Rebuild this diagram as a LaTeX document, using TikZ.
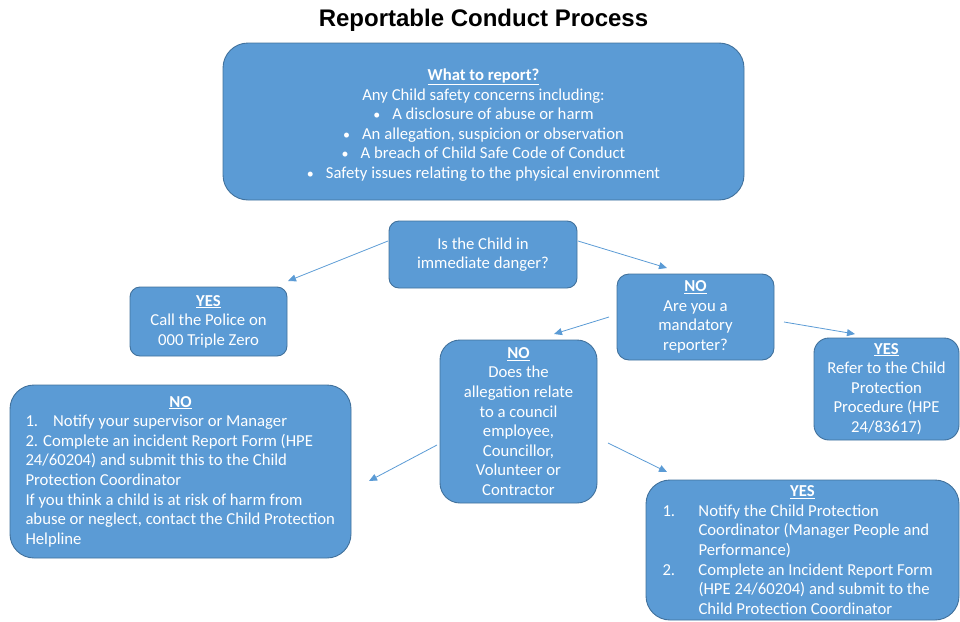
\documentclass[tikz,border=0pt]{standalone}
\usepackage{fontspec}
\setmainfont{Carlito}
\newfontfamily\titlefont{Liberation Sans}
\usetikzlibrary{arrows.meta,positioning}
\definecolor{boxblue}{HTML}{5B9BD5}
\definecolor{boxedge}{HTML}{41719C}
\newcommand{\headword}[1]{\underline{\textbf{#1}}}
\newcommand{\dotitem}{{\fontsize{14}{14}\selectfont\textbullet}\hspace{12pt}}
\tikzset{
  flowbox/.style={draw=boxedge, fill=boxblue, text=white, line width=0.9pt,
    align=center, inner sep=0pt, font=\fontsize{16.7}{19.6}\selectfont},
  flowarrow/.style={draw=boxblue, line width=0.8pt, -{Triangle[length=8pt,width=7pt]}}
}

\begin{document}
\begin{tikzpicture}[x=1pt,y=-1pt]
        \useasboundingbox (0,0) rectangle (960,621);

        % Title
        \node[font=\titlefont\bfseries\fontsize{24}{26}\selectfont] (title) at (483.5,20) {Reportable Conduct Process};

        % Boxes
        \node[flowbox, rounded corners=25pt, minimum width=521pt, minimum height=157pt] (what_box) at (483.5,121.5)
            {\rule{0pt}{19pt}\headword{What to report?}\\
             Any Child safety concerns including:\\
             \dotitem A disclosure of abuse or harm\\
             \dotitem An allegation, suspicion or observation\\
             \dotitem A breach of Child Safe Code of Conduct\\
             \dotitem Safety issues relating to the physical environment};
        \node[flowbox, rounded corners=10pt, minimum width=188pt, minimum height=67pt] (danger_box) at (483,254.5)
            {Is the Child in\\immediate danger?};
        \node[flowbox, rounded corners=10pt, minimum width=157pt, minimum height=69pt] (police_yes) at (208.5,321.5)
            {\headword{YES}\\Call the Police on\\000 Triple Zero};
        \node[flowbox, rounded corners=12pt, minimum width=157pt, minimum height=86pt] (mandatory_no) at (695.5,317)
            {\headword{NO}\\Are you a\\mandatory\\reporter?};
        \node[flowbox, rounded corners=20pt, minimum width=157pt, minimum height=163pt] (allegation_no) at (518.5,421.5)
            {\headword{NO}\\Does the\\allegation relate\\to a council\\employee,\\Councillor,\\Volunteer or\\Contractor};
        \node[flowbox, rounded corners=15pt, minimum width=145pt, minimum height=102pt] (refer_yes) at (886.5,389)
            {\headword{YES}\\Refer to the Child\\Protection\\Procedure (HPE\\24/83617)};
        \node[flowbox, rounded corners=24pt, minimum width=341pt, minimum height=173pt, align=left] (notify_no) at (180.5,471.5)
            {\makebox[310pt]{\headword{NO}}\\
             1.\hspace{15pt}Notify your supervisor or Manager\\
             2. Complete an incident Report Form (HPE\\
             24/60204) and submit this to the Child\\
             Protection Coordinator\\
             If you think a child is at risk of harm from\\
             abuse or neglect, contact the Child Protection\\
             Helpline};
        \node[flowbox, rounded corners=24pt, minimum width=313pt, minimum height=140pt, align=left] (notify_yes) at (802.5,550)
            {\makebox[280pt]{\headword{YES}}\\
             \makebox[36pt][l]{1.}Notify the Child Protection\\
             \hspace*{36pt}Coordinator (Manager People and\\
             \hspace*{36pt}Performance)\\
             \makebox[36pt][l]{2.}Complete an Incident Report Form\\
             \hspace*{36pt}(HPE 24/60204) and submit to the\\
             \hspace*{36pt}Child Protection Coordinator};

        % Arrow ends
        \coordinate (a1_from) at (388,241);
        \coordinate (a1_to) at (288,281);
        \coordinate (a2_from) at (578,241);
        \coordinate (a2_to) at (667,268);
        \coordinate (a3_from) at (609,317);
        \coordinate (a3_to) at (554,334);
        \coordinate (a4_from) at (784,322);
        \coordinate (a4_to) at (855,334);
        \coordinate (a5_from) at (437,445);
        \coordinate (a5_to) at (369,481);
        \coordinate (a6_from) at (608,443);
        \coordinate (a6_to) at (667,472);

        % Arrows
        \draw[flowarrow] (a1_from) -- (a1_to);
        \draw[flowarrow] (a2_from) -- (a2_to);
        \draw[flowarrow] (a3_from) -- (a3_to);
        \draw[flowarrow] (a4_from) -- (a4_to);
        \draw[flowarrow] (a5_from) -- (a5_to);
        \draw[flowarrow] (a6_from) -- (a6_to);
    \end{tikzpicture}
\end{document}
